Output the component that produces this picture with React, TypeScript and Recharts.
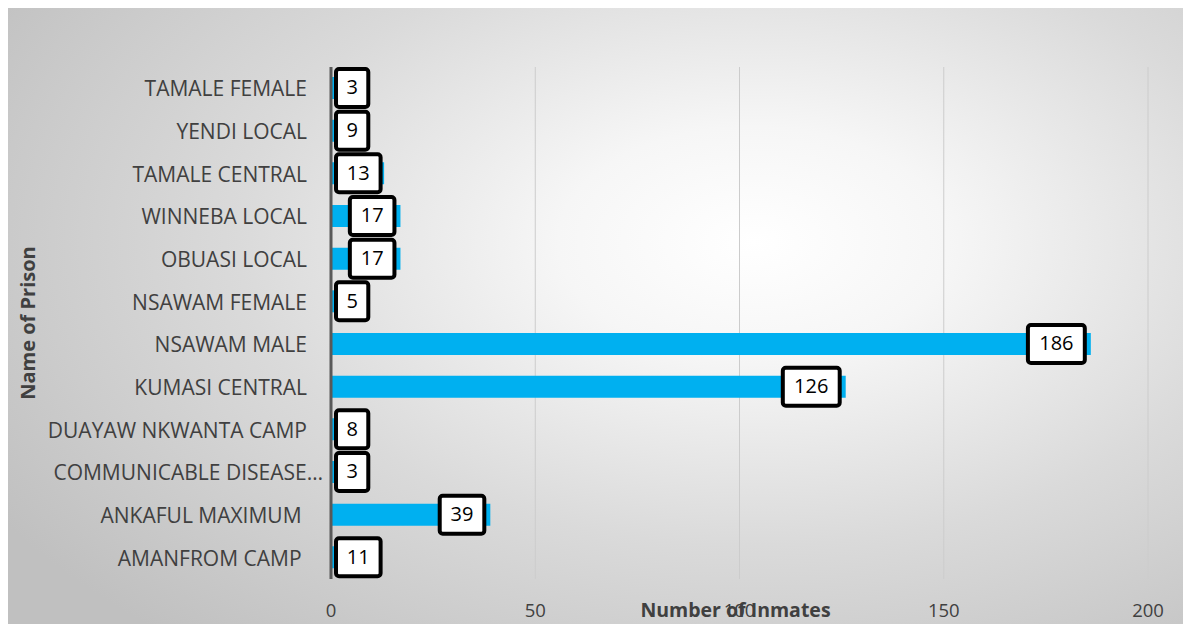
import React from "react";
import { BarChart, Bar, XAxis, YAxis, CartesianGrid, LabelList, Label } from "recharts";

const prisons = [
  "TAMALE FEMALE",
  "YENDI LOCAL",
  "TAMALE CENTRAL",
  "WINNEBA LOCAL",
  "OBUASI LOCAL",
  "NSAWAM FEMALE",
  "NSAWAM MALE",
  "KUMASI CENTRAL",
  "DUAYAW NKWANTA CAMP",
  "COMMUNICABLE DISEASE…",
  "ANKAFUL MAXIMUM\u00A0",
  "AMANFROM CAMP\u00A0",
];
const inmates = [3, 9, 13, 17, 17, 5, 186, 126, 8, 3, 39, 11];
const xTicks = [0, 50, 100, 150, 200];

const data = prisons.map((name, i) => ({ name, value: inmates[i] }));

const FONT = "'Open Sans', 'Liberation Sans', sans-serif";

const ValueBox = (props: any) => {
  const { x, y, width, height, value } = props;
  const s = String(value);
  const w = 20 + s.length * 12.3;
  const h = 38;
  const right = x + width - 6;
  const left = Math.max(x + 5, right - w);
  const cy = y + height / 2;
  return (
    <g>
      <rect x={left} y={cy - h / 2} width={w} height={h} rx={3} fill="#ffffff" stroke="#000000" strokeWidth={4} />
      <text x={left + w / 2} y={cy + 1} textAnchor="middle" dominantBaseline="middle" fontSize={20} fill="#000" fontFamily={FONT}>
        {s}
      </text>
    </g>
  );
};

const CategoryTick = (props: any) => {
  const { x, y, payload } = props;
  const label = String(payload.value);
  const shift = label.endsWith("…") ? 16 : 0;
  return (
    <text x={x + shift} y={y} textAnchor="end" dominantBaseline="central" fontSize={21} fill="#404040" fontFamily={FONT}>
      {label}
    </text>
  );
};

export default function App() {
  return (
    <div
      style={{
        width: 1183,
        height: 616,
        background: "radial-gradient(ellipse 75% 85% at 63% 38%, #ffffff 0%, #f6f6f6 22%, #dadada 58%, #c0c0c0 100%)",
        fontFamily: FONT,
      }}
    >
      <BarChart
        width={1183}
        height={616}
        data={data}
        layout="vertical"
        margin={{ top: 59, right: 43, bottom: 5, left: 0 }}
        barSize={22}
      >
        <CartesianGrid horizontal={false} vertical={true} stroke="#cccccc" strokeWidth={1} />
        <XAxis
          type="number"
          domain={[0, 200]}
          ticks={xTicks}
          axisLine={false}
          tickLine={false}
          tickSize={0}
          tickMargin={25}
          height={40}
          tick={{ fill: "#404040", fontSize: 18.5, fontFamily: FONT }}
        >
          <Label
            content={(p: any) => {
              const vb = p.viewBox;
              return (
                <text x={vb.x + vb.width / 2 - 4} y={vb.y + 38} textAnchor="middle" fontSize={19.5} fontWeight="bold" fill="#404040" fontFamily={FONT}>
                  Number of Inmates
                </text>
              );
            }}
          />
        </XAxis>
        <YAxis
          type="category"
          dataKey="name"
          width={323}
          axisLine={{ stroke: "#595959", strokeWidth: 3 }}
          tickLine={false}
          tickSize={0}
          tickMargin={24}
          interval={0}
          tick={CategoryTick}
        >
          <Label
            content={(p: any) => {
              const vb = p.viewBox;
              const cy = vb.y + vb.height / 2;
              return (
                <text x={22} y={cy} transform={`rotate(-90 22 ${cy})`} textAnchor="middle" dominantBaseline="middle" fontSize={20} fontWeight="bold" fill="#404040" fontFamily={FONT}>
                  Name of Prison
                </text>
              );
            }}
          />
        </YAxis>
        <Bar dataKey="value" fill="#00B0F0" isAnimationActive={false}>
          <LabelList dataKey="value" content={ValueBox} />
        </Bar>
      </BarChart>
    </div>
  );
}
